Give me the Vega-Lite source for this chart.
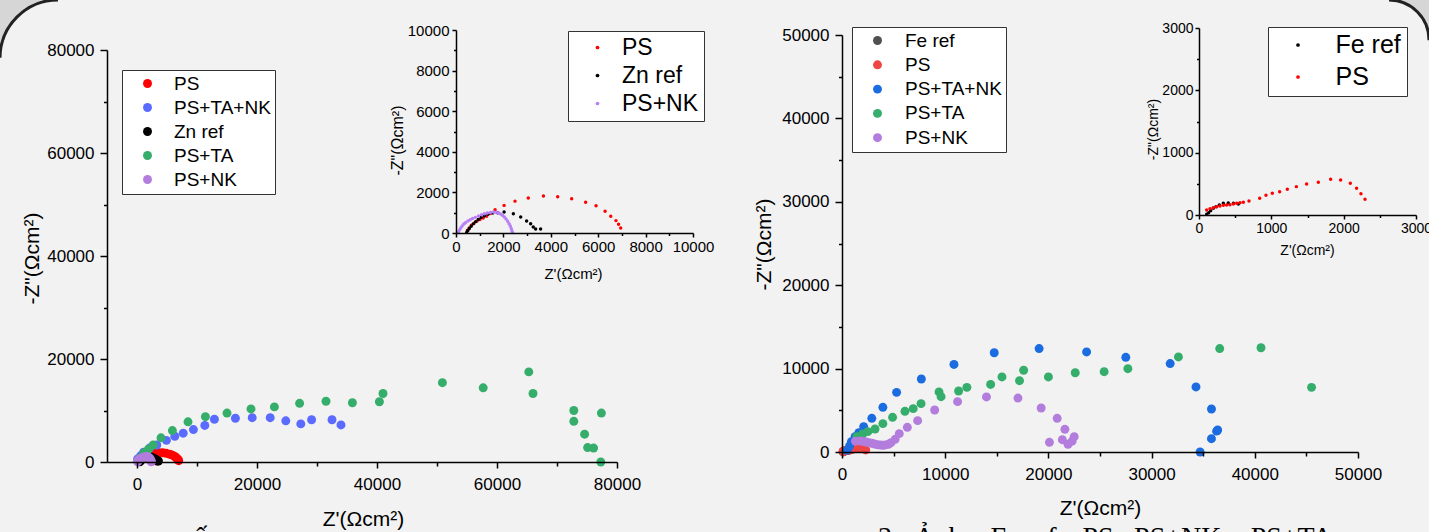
{
  "$schema": "https://vega.github.io/schema/vega-lite/v6.json",
  "width": 1429,
  "height": 532,
  "autosize": "none",
  "padding": 0,
  "background": "#d6d6d6",
  "config": {
    "view": {"stroke": null, "fill": null},
    "font": "Liberation Sans",
    "axis": {"grid": false, "domainColor": "#000", "domainWidth": 1.5, "tickColor": "#000", "tickWidth": 1.5, "labelColor": "#000", "titleColor": "#000", "labelFont": "Liberation Sans", "titleFont": "Liberation Sans", "titleFontWeight": "normal", "labelOverlap": false, "labelFlush": false, "labelBound": false, "titleBaseline": "middle", "titleAlign": "center", "format": "d"},
    "legend": {"title": null, "orient": "none", "fillColor": "#ffffff", "strokeColor": "#333", "symbolType": "circle", "symbolOpacity": 1, "labelFont": "Liberation Sans", "labelColor": "#000", "symbolStrokeWidth": 0}
  },
  "datasets": {
    "left": [
      {"s":"PS","x":480,"y":120},{"s":"PS","x":560,"y":250},{"s":"PS","x":650,"y":380},{"s":"PS","x":760,"y":480},{"s":"PS","x":880,"y":580},{"s":"PS","x":1010,"y":660},{"s":"PS","x":1150,"y":740},{"s":"PS","x":1290,"y":830},{"s":"PS","x":1450,"y":960},{"s":"PS","x":1650,"y":1150},{"s":"PS","x":2030,"y":1360},{"s":"PS","x":2490,"y":1570},{"s":"PS","x":3050,"y":1720},{"s":"PS","x":3690,"y":1820},{"s":"PS","x":4290,"y":1790},{"s":"PS","x":4880,"y":1690},{"s":"PS","x":5470,"y":1510},{"s":"PS","x":5910,"y":1340},{"s":"PS","x":6290,"y":1070},{"s":"PS","x":6530,"y":820},{"s":"PS","x":6750,"y":610},{"s":"PS","x":6860,"y":430},{"s":"PS","x":6950,"y":250},
      {"s":"PS+TA+NK","x":100,"y":600},{"s":"PS+TA+NK","x":600,"y":1200},{"s":"PS+TA+NK","x":1100,"y":1900},{"s":"PS+TA+NK","x":2100,"y":2700},{"s":"PS+TA+NK","x":3300,"y":3300},{"s":"PS+TA+NK","x":4900,"y":4200},{"s":"PS+TA+NK","x":6300,"y":5000},{"s":"PS+TA+NK","x":7700,"y":5600},{"s":"PS+TA+NK","x":9400,"y":6300},{"s":"PS+TA+NK","x":11300,"y":7100},{"s":"PS+TA+NK","x":12900,"y":8300},{"s":"PS+TA+NK","x":16400,"y":8500},{"s":"PS+TA+NK","x":19200,"y":8600},{"s":"PS+TA+NK","x":22200,"y":8600},{"s":"PS+TA+NK","x":24800,"y":8000},{"s":"PS+TA+NK","x":27300,"y":7400},{"s":"PS+TA+NK","x":29100,"y":8200},{"s":"PS+TA+NK","x":32500,"y":8200},{"s":"PS+TA+NK","x":34000,"y":7200},
      {"s":"Zn ref","x":450,"y":30},{"s":"Zn ref","x":500,"y":120},{"s":"Zn ref","x":560,"y":220},{"s":"Zn ref","x":640,"y":330},{"s":"Zn ref","x":730,"y":450},{"s":"Zn ref","x":830,"y":560},{"s":"Zn ref","x":940,"y":670},{"s":"Zn ref","x":1060,"y":760},{"s":"Zn ref","x":1200,"y":850},{"s":"Zn ref","x":1350,"y":920},{"s":"Zn ref","x":1550,"y":980},{"s":"Zn ref","x":1750,"y":1000},{"s":"Zn ref","x":2030,"y":1030},{"s":"Zn ref","x":2420,"y":950},{"s":"Zn ref","x":2730,"y":790},{"s":"Zn ref","x":2980,"y":590},{"s":"Zn ref","x":3150,"y":460},{"s":"Zn ref","x":3260,"y":300},{"s":"Zn ref","x":3360,"y":200},{"s":"Zn ref","x":3570,"y":200},
      {"s":"PS+TA","x":500,"y":800},{"s":"PS+TA","x":1200,"y":1800},{"s":"PS+TA","x":1900,"y":2500},{"s":"PS+TA","x":2700,"y":3300},{"s":"PS+TA","x":4000,"y":4700},{"s":"PS+TA","x":5900,"y":6100},{"s":"PS+TA","x":8500,"y":7800},{"s":"PS+TA","x":11400,"y":8800},{"s":"PS+TA","x":15000,"y":9500},{"s":"PS+TA","x":19000,"y":10300},{"s":"PS+TA","x":22900,"y":10700},{"s":"PS+TA","x":27100,"y":11400},{"s":"PS+TA","x":31500,"y":11800},{"s":"PS+TA","x":35900,"y":11500},{"s":"PS+TA","x":40400,"y":11700},{"s":"PS+TA","x":41000,"y":13300},{"s":"PS+TA","x":50900,"y":15400},{"s":"PS+TA","x":57700,"y":14400},{"s":"PS+TA","x":65300,"y":17500},{"s":"PS+TA","x":66000,"y":13300},{"s":"PS+TA","x":72800,"y":10000},{"s":"PS+TA","x":72800,"y":7900},{"s":"PS+TA","x":77400,"y":9500},{"s":"PS+TA","x":74600,"y":5400},{"s":"PS+TA","x":75100,"y":2800},{"s":"PS+TA","x":76100,"y":2700},{"s":"PS+TA","x":77300,"y":0},
      {"s":"PS+NK","x":100,"y":50},{"s":"PS+NK","x":150,"y":150},{"s":"PS+NK","x":200,"y":250},{"s":"PS+NK","x":260,"y":350},{"s":"PS+NK","x":330,"y":440},{"s":"PS+NK","x":400,"y":510},{"s":"PS+NK","x":500,"y":590},{"s":"PS+NK","x":600,"y":650},{"s":"PS+NK","x":700,"y":710},{"s":"PS+NK","x":820,"y":770},{"s":"PS+NK","x":950,"y":840},{"s":"PS+NK","x":1080,"y":900},{"s":"PS+NK","x":1200,"y":950},{"s":"PS+NK","x":1320,"y":985},{"s":"PS+NK","x":1450,"y":1010},{"s":"PS+NK","x":1580,"y":1030},{"s":"PS+NK","x":1700,"y":1020},{"s":"PS+NK","x":1800,"y":990},{"s":"PS+NK","x":1880,"y":940},{"s":"PS+NK","x":1960,"y":870},{"s":"PS+NK","x":2040,"y":790},{"s":"PS+NK","x":2110,"y":690},{"s":"PS+NK","x":2180,"y":580},{"s":"PS+NK","x":2240,"y":460},{"s":"PS+NK","x":2290,"y":340},{"s":"PS+NK","x":2330,"y":220},{"s":"PS+NK","x":2360,"y":110},{"s":"PS+NK","x":2380,"y":20}
    ],
    "right": [
      {"s":"Fe ref","x":106,"y":11},{"s":"Fe ref","x":134,"y":37},{"s":"Fe ref","x":161,"y":70},{"s":"Fe ref","x":198,"y":107},{"s":"Fe ref","x":235,"y":134},{"s":"Fe ref","x":281,"y":160},{"s":"Fe ref","x":336,"y":187},{"s":"Fe ref","x":405,"y":193},{"s":"Fe ref","x":475,"y":187},{"s":"Fe ref","x":544,"y":176},
      {"s":"PS","x":106,"y":80},{"s":"PS","x":152,"y":102},{"s":"PS","x":198,"y":118},{"s":"PS","x":244,"y":134},{"s":"PS","x":290,"y":144},{"s":"PS","x":336,"y":155},{"s":"PS","x":382,"y":160},{"s":"PS","x":428,"y":166},{"s":"PS","x":475,"y":176},{"s":"PS","x":521,"y":187},{"s":"PS","x":567,"y":198},{"s":"PS","x":613,"y":203},{"s":"PS","x":691,"y":225},{"s":"PS","x":839,"y":267},{"s":"PS","x":926,"y":316},{"s":"PS","x":1014,"y":348},{"s":"PS","x":1115,"y":374},{"s":"PS","x":1221,"y":412},{"s":"PS","x":1346,"y":455},{"s":"PS","x":1488,"y":497},{"s":"PS","x":1650,"y":524},{"s":"PS","x":1820,"y":572},{"s":"PS","x":1958,"y":561},{"s":"PS","x":2092,"y":508},{"s":"PS","x":2179,"y":428},{"s":"PS","x":2239,"y":342},{"s":"PS","x":2295,"y":251},
      {"s":"PS+TA+NK","x":500,"y":200},{"s":"PS+TA+NK","x":730,"y":720},{"s":"PS+TA+NK","x":910,"y":1240},{"s":"PS+TA+NK","x":1270,"y":1840},{"s":"PS+TA+NK","x":1630,"y":2320},{"s":"PS+TA+NK","x":2100,"y":3040},{"s":"PS+TA+NK","x":2890,"y":4040},{"s":"PS+TA+NK","x":3960,"y":5360},{"s":"PS+TA+NK","x":5290,"y":7150},{"s":"PS+TA+NK","x":7690,"y":8750},{"s":"PS+TA+NK","x":10850,"y":10500},{"s":"PS+TA+NK","x":14750,"y":11900},{"s":"PS+TA+NK","x":19100,"y":12400},{"s":"PS+TA+NK","x":23700,"y":12000},{"s":"PS+TA+NK","x":27500,"y":11350},{"s":"PS+TA+NK","x":31800,"y":10600},{"s":"PS+TA+NK","x":34300,"y":7800},{"s":"PS+TA+NK","x":35800,"y":5160},{"s":"PS+TA+NK","x":36400,"y":2640},{"s":"PS+TA+NK","x":36300,"y":2500},{"s":"PS+TA+NK","x":35800,"y":1600},{"s":"PS+TA+NK","x":34700,"y":0},
      {"s":"PS+TA","x":1450,"y":1840},{"s":"PS+TA","x":2000,"y":2160},{"s":"PS+TA","x":2500,"y":2440},{"s":"PS+TA","x":3200,"y":2760},{"s":"PS+TA","x":3960,"y":3400},{"s":"PS+TA","x":4900,"y":4160},{"s":"PS+TA","x":6100,"y":4880},{"s":"PS+TA","x":6900,"y":5200},{"s":"PS+TA","x":7660,"y":5800},{"s":"PS+TA","x":9400,"y":7200},{"s":"PS+TA","x":9600,"y":6630},{"s":"PS+TA","x":11300,"y":7310},{"s":"PS+TA","x":12100,"y":7750},{"s":"PS+TA","x":14400,"y":8100},{"s":"PS+TA","x":15500,"y":9000},{"s":"PS+TA","x":17200,"y":8550},{"s":"PS+TA","x":17600,"y":9800},{"s":"PS+TA","x":20000,"y":9000},{"s":"PS+TA","x":22600,"y":9500},{"s":"PS+TA","x":25400,"y":9630},{"s":"PS+TA","x":27700,"y":9990},{"s":"PS+TA","x":32600,"y":11400},{"s":"PS+TA","x":36600,"y":12400},{"s":"PS+TA","x":40600,"y":12500},{"s":"PS+TA","x":45500,"y":7750},
      {"s":"PS+NK","x":1300,"y":1300},{"s":"PS+NK","x":1810,"y":1320},{"s":"PS+NK","x":2100,"y":1260},{"s":"PS+NK","x":2350,"y":1200},{"s":"PS+NK","x":2600,"y":1120},{"s":"PS+NK","x":2890,"y":1040},{"s":"PS+NK","x":3150,"y":960},{"s":"PS+NK","x":3420,"y":880},{"s":"PS+NK","x":3700,"y":840},{"s":"PS+NK","x":3960,"y":800},{"s":"PS+NK","x":4200,"y":850},{"s":"PS+NK","x":4500,"y":920},{"s":"PS+NK","x":4750,"y":1120},{"s":"PS+NK","x":5150,"y":1520},{"s":"PS+NK","x":5550,"y":2200},{"s":"PS+NK","x":6330,"y":2960},{"s":"PS+NK","x":7330,"y":3760},{"s":"PS+NK","x":8980,"y":5040},{"s":"PS+NK","x":11200,"y":6040},{"s":"PS+NK","x":14000,"y":6600},{"s":"PS+NK","x":17050,"y":6470},{"s":"PS+NK","x":19300,"y":5280},{"s":"PS+NK","x":20850,"y":4040},{"s":"PS+NK","x":21600,"y":2720},{"s":"PS+NK","x":22500,"y":1840},{"s":"PS+NK","x":21350,"y":1480},{"s":"PS+NK","x":20100,"y":1160},{"s":"PS+NK","x":21900,"y":920},{"s":"PS+NK","x":22300,"y":1300}
    ],
    "caption": [
      {"t":"3.","x":3500,"y":-11300},{"t":"Ảnh","x":7000,"y":-11300},{"t":"Fe ref,","x":14400,"y":-11300},{"t":"PS,","x":23300,"y":-11300},{"t":"PS+NK,","x":28300,"y":-11300},{"t":"PS+TA","x":39600,"y":-11300}
    ],
    "captionLeft": [
      {"t":"ấ","x":9500,"y":-16300}
    ]
  },
  "layer": [
    {
      "data": {"values": [{}]},
      "mark": {"type": "rect", "fill": "#f2f2f2", "stroke": "#222", "strokeWidth": 3, "cornerRadiusTopLeft": 58, "cornerRadiusTopRight": 40, "strokeDash": [0, 1331, 63, 2395, 92, 0]},
      "encoding": {}
    },
    {
      "layer": [
        {
          "data": {"name": "left"},
          "mark": {"type": "circle", "size": 80, "opacity": 1},
          "encoding": {
            "x": {"field": "x", "type": "quantitative", "scale": {"domain": [-5000, 80000], "range": [107, 617], "nice": false, "zero": false},
              "axis": {"zindex": 2, "orient": "bottom", "offset": -70, "values": [0,10000,20000,30000,40000,50000,60000,70000,80000], "labelExpr": "datum.value % 20000 === 0 ? datum.label : ''", "tickSize": {"condition": {"test": "datum.value % 20000 === 0", "value": 6}, "value": 4}, "labelPadding": 8, "labelFontSize": 17, "title": "Z'(Ωcm²)", "titleFontSize": 21, "titleX": 363, "titleY": 57}},
            "y": {"field": "y", "type": "quantitative", "scale": {"domain": [0, 80000], "range": [462, 50], "nice": false, "zero": false},
              "axis": {"zindex": 2, "orient": "left", "offset": -107, "values": [0,10000,20000,30000,40000,50000,60000,70000,80000], "labelExpr": "datum.value % 20000 === 0 ? datum.label : ''", "tickSize": {"condition": {"test": "datum.value % 20000 === 0", "value": 7}, "value": 3.5}, "labelPadding": 6, "labelFontSize": 17, "title": "-Z\"(Ωcm²)", "titleFontSize": 21, "titleX": -75, "titleY": 258}},
            "color": {"field": "s", "type": "nominal", "scale": {"domain": ["PS","PS+TA+NK","Zn ref","PS+TA","PS+NK"], "range": ["#ff0000","#5b6bff","#000000","#35ad6b","#b27ddd"]},
              "legend": {"legendX": 122, "legendY": 70, "padding": 4, "symbolOffset": 12, "labelOffset": 17, "labelFontSize": 19, "rowPadding": 4, "symbolSize": 80}}
          }
        },
        {
          "data": {"name": "captionLeft"},
          "mark": {"type": "text", "font": "Liberation Serif", "fontSize": 28, "align": "left", "baseline": "alphabetic", "color": "#000"},
          "encoding": {
            "x": {"field": "x", "type": "quantitative"},
            "y": {"field": "y", "type": "quantitative"},
            "text": {"field": "t"}
          }
        }
      ]
    },
    {
      "data": {"name": "left"},
      "transform": [{"filter": "datum.s === 'PS' || datum.s === 'Zn ref' || datum.s === 'PS+NK'"}],
      "mark": {"type": "circle", "size": 12, "opacity": 1},
      "encoding": {
        "x": {"field": "x", "type": "quantitative", "scale": {"domain": [0, 10000], "range": [456, 693], "nice": false, "zero": false},
          "axis": {"zindex": 2, "orient": "bottom", "offset": -299, "values": [0,1000,2000,3000,4000,5000,6000,7000,8000,9000,10000], "labelExpr": "datum.value % 2000 === 0 ? datum.label : ''", "tickSize": {"condition": {"test": "datum.value % 2000 === 0", "value": 4}, "value": 2.5}, "labelPadding": 2, "labelFontSize": 15, "title": "Z'(Ωcm²)", "titleFontSize": 15, "titleX": 573, "titleY": 40}},
        "y": {"field": "y", "type": "quantitative", "scale": {"domain": [0, 10000], "range": [233, 30], "nice": false, "zero": false},
          "axis": {"zindex": 2, "orient": "left", "offset": -456, "values": [0,1000,2000,3000,4000,5000,6000,7000,8000,9000,10000], "labelExpr": "datum.value % 2000 === 0 ? datum.label : ''", "tickSize": {"condition": {"test": "datum.value % 2000 === 0", "value": 4}, "value": 2.5}, "labelPadding": 3, "labelFontSize": 15, "title": "-Z\"(Ωcm²)", "titleFontSize": 16, "titleX": -59, "titleY": 140}},
        "color": {"field": "s", "type": "nominal", "scale": {"domain": ["PS","Zn ref","PS+NK"], "range": ["#ff0000","#000000","#b880f5"]},
          "legend": {"legendX": 568, "legendY": 31, "padding": 5, "symbolOffset": 13, "labelOffset": 13, "labelFontSize": 23, "rowPadding": 4, "symbolSize": 14}}
      }
    },
    {
      "layer": [
        {
          "data": {"name": "right"},
          "mark": {"type": "circle", "size": 80, "opacity": 1},
          "encoding": {
            "x": {"field": "x", "type": "quantitative", "scale": {"domain": [0, 50000], "range": [842, 1358], "nice": false, "zero": false},
              "axis": {"zindex": 2, "orient": "bottom", "offset": -80, "values": [0,5000,10000,15000,20000,25000,30000,35000,40000,45000,50000], "labelExpr": "datum.value % 10000 === 0 ? datum.label : ''", "tickSize": {"condition": {"test": "datum.value % 10000 === 0", "value": 6}, "value": 4}, "labelPadding": 8, "labelFontSize": 17, "title": "Z'(Ωcm²)", "titleFontSize": 21, "titleX": 1100, "titleY": 56}},
            "y": {"field": "y", "type": "quantitative", "scale": {"domain": [0, 50000], "range": [452, 35], "nice": false, "zero": false},
              "axis": {"zindex": 2, "orient": "left", "offset": -842, "values": [0,5000,10000,15000,20000,25000,30000,35000,40000,45000,50000], "labelExpr": "datum.value % 10000 === 0 ? datum.label : ''", "tickSize": {"condition": {"test": "datum.value % 10000 === 0", "value": 7}, "value": 3.5}, "labelPadding": 6, "labelFontSize": 17, "title": "-Z\"(Ωcm²)", "titleFontSize": 21, "titleX": -78, "titleY": 244}},
            "color": {"field": "s", "type": "nominal", "scale": {"domain": ["Fe ref","PS","PS+TA+NK","PS+TA","PS+NK"], "range": ["#505050","#f04545","#1a6ce0","#35ad6b","#b27ddd"]},
              "legend": {"legendX": 852, "legendY": 27, "padding": 4, "symbolOffset": 12, "labelOffset": 18, "labelFontSize": 19, "rowPadding": 4.3, "symbolSize": 80}}
          }
        },
        {
          "data": {"name": "caption"},
          "mark": {"type": "text", "font": "Liberation Serif", "fontSize": 28, "align": "left", "baseline": "alphabetic", "color": "#000"},
          "encoding": {
            "x": {"field": "x", "type": "quantitative"},
            "y": {"field": "y", "type": "quantitative"},
            "text": {"field": "t"}
          }
        }
      ]
    },
    {
      "data": {"name": "right"},
      "transform": [{"filter": "datum.s === 'Fe ref' || datum.s === 'PS'"}],
      "mark": {"type": "circle", "size": 12, "opacity": 1},
      "encoding": {
        "x": {"field": "x", "type": "quantitative", "scale": {"domain": [0, 3000], "range": [1199, 1416], "nice": false, "zero": false},
          "axis": {"zindex": 2, "orient": "bottom", "offset": -317, "values": [0,500,1000,1500,2000,2500,3000], "labelExpr": "datum.value % 1000 === 0 ? datum.label : ''", "tickSize": {"condition": {"test": "datum.value % 1000 === 0", "value": 4}, "value": 2.5}, "labelPadding": 2, "labelFontSize": 14, "title": "Z'(Ωcm²)", "titleFontSize": 14, "titleX": 1307, "titleY": 35}},
        "y": {"field": "y", "type": "quantitative", "scale": {"domain": [0, 3000], "range": [215, 28], "nice": false, "zero": false},
          "axis": {"zindex": 2, "orient": "left", "offset": -1199, "values": [0,500,1000,1500,2000,2500,3000], "labelExpr": "datum.value % 1000 === 0 ? datum.label : ''", "tickSize": {"condition": {"test": "datum.value % 1000 === 0", "value": 4}, "value": 2.5}, "labelPadding": 2, "labelFontSize": 14, "title": "-Z\"(Ωcm²)", "titleFontSize": 14, "titleX": -46, "titleY": 129}},
        "color": {"field": "s", "type": "nominal", "scale": {"domain": ["Fe ref","PS"], "range": ["#000000","#ff0000"]},
          "legend": {"legendX": 1268, "legendY": 27, "padding": 5.5, "symbolOffset": 12, "labelOffset": 25, "labelFontSize": 25, "rowPadding": 6, "symbolSize": 14}}
      }
    }
  ],
  "resolve": {
    "scale": {"x": "independent", "y": "independent", "color": "independent"},
    "axis": {"x": "independent", "y": "independent"},
    "legend": {"color": "independent"}
  }
}
